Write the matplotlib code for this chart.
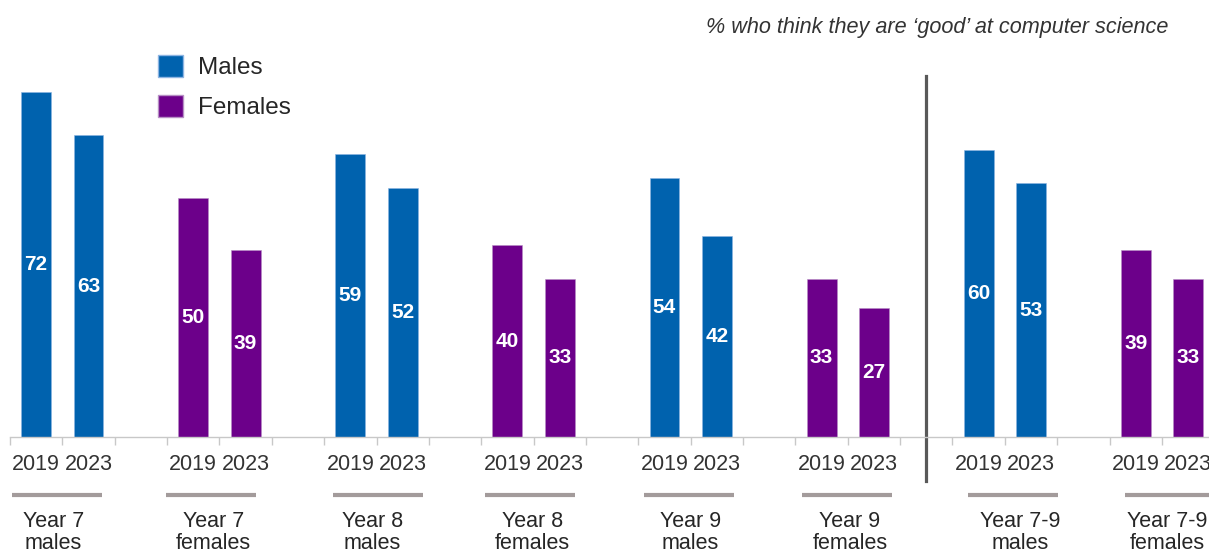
import matplotlib
matplotlib.use("Agg")
import matplotlib.pyplot as plt
from matplotlib.patches import Patch

plt.rcParams['font.family'] = ['Liberation Sans', 'DejaVu Sans']

groups = ["Year 7\nmales", "Year 7\nfemales", "Year 8\nmales", "Year 8\nfemales",
          "Year 9\nmales", "Year 9\nfemales", "Year 7-9\nmales", "Year 7-9\nfemales"]
genders = ["Males", "Females", "Males", "Females", "Males", "Females", "Males", "Females"]
years = ["2019", "2023"]
values_2019 = [72, 50, 59, 40, 54, 33, 60, 39]
values_2023 = [63, 39, 52, 33, 42, 27, 53, 33]
title = "% who think they are \u2018good\u2019 at computer science"

# layout: small horizontal nudges (in slot units) of group labels / underlines
label_nudge = [-0.17, -0.11, -0.08, -0.02, 0.0, 0.04, 0.29, 0.10]
line_nudge = [-0.10, -0.17, 0.02, -0.06, -0.04, -0.02, 0.15, 0.15]

colors = {"Males": "#0062AE", "Females": "#6C008A"}

W, H = 1209, 554
fig = plt.figure(figsize=(W / 100, H / 100), dpi=100)
slot_px = 52.36
left_px = 10
bottom_px = 437
ymax = 80
px_per_unit = 4.79
ax = fig.add_axes([left_px / W, (H - bottom_px) / H, 24 * slot_px / W, ymax * px_per_unit / H])
ax.set_xlim(-0.5, 23.5)
ax.set_ylim(0, ymax)

bar_w = 0.57
xs, labels = [], []
for gi, (g, gen) in enumerate(zip(groups, genders)):
    base = gi * 3
    for k, v in enumerate([values_2019[gi], values_2023[gi]]):
        x = base + k
        ax.bar(x, v, width=bar_w, color=colors[gen], edgecolor="#8DB4E2" if gen == "Males" else "#B78FC4",
               linewidth=0.4, zorder=2)
        ax.text(x, v / 2, str(v), ha="center", va="center", color="white",
                fontsize=15, fontweight="bold", zorder=3)
        xs.append(x)
        labels.append(years[k])
    cx = base + 0.5
    lc = cx + line_nudge[gi]
    ax.plot([lc - 0.86, lc + 0.86], [-0.151, -0.151], color="#A39B9B", lw=3,
            transform=ax.get_xaxis_transform(), clip_on=False, solid_capstyle="butt")
    ax.text(cx + label_nudge[gi], -0.192, g, ha="center", va="top", fontsize=15.5, color="#262626",
            transform=ax.get_xaxis_transform(), linespacing=1.12)

ax.set_xticks(xs)
ax.set_xticklabels(labels, fontsize=15.5, color="#333333")
ax.tick_params(axis="x", which="major", length=0, pad=12)
ax.set_xticks([i - 0.5 for i in range(25)], minor=True)
ax.tick_params(axis="x", which="minor", length=6, color="#C8C8C8", width=1)
ax.set_yticks([])
for s in ["top", "right", "left"]:
    ax.spines[s].set_visible(False)
ax.spines["bottom"].set_color("#C8C8C8")
ax.spines["bottom"].set_linewidth(1)

# divider
ax.plot([17, 17], [0.9426, -0.115], color="#595959", lw=2.3,
        transform=ax.get_xaxis_transform(), clip_on=False)

handles = [Patch(facecolor=colors["Males"], edgecolor="#8DB4E2", label="Males"),
           Patch(facecolor=colors["Females"], edgecolor="#B78FC4", label="Females")]
fig.legend(handles=handles, loc="upper left", bbox_to_anchor=(136 / W, 1 - 33 / H),
           frameon=False, fontsize=17.5, handlelength=1.05, handleheight=1.05,
           handletextpad=0.6, labelspacing=0.62, labelcolor="#262626")

fig.text(1168 / W, 1 - 28 / H, title, ha="right", va="center", fontsize=15.6,
         style="italic", color="#333333")

fig.savefig("out.png", dpi=100)
